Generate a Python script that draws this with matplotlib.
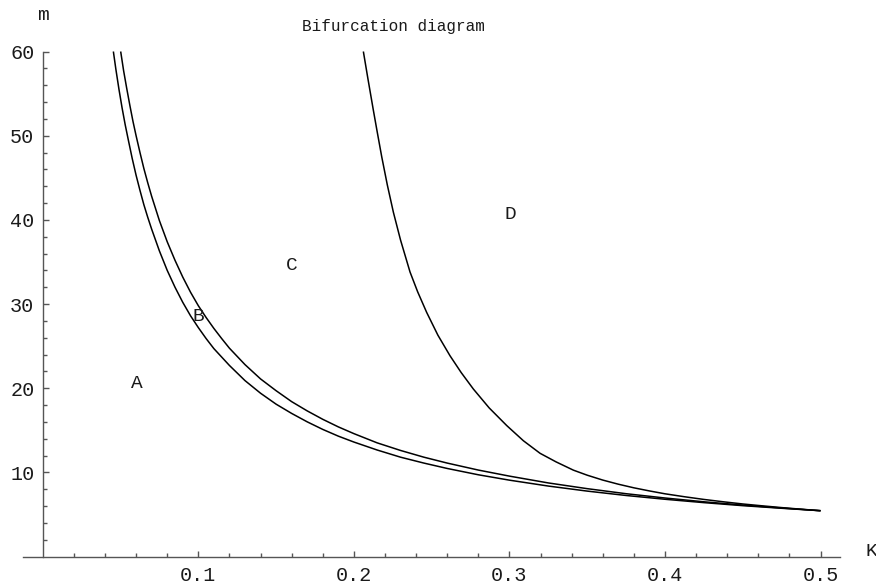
import matplotlib
matplotlib.use("Agg")
import matplotlib.pyplot as plt
from matplotlib.ticker import FixedLocator

# ---- data ----
k_curve1 = [0.0454, 0.047, 0.049, 0.051, 0.053, 0.055, 0.0575, 0.060, 0.0625, 0.065,
            0.0675, 0.070, 0.075, 0.080, 0.085, 0.090, 0.095, 0.100, 0.105, 0.110,
            0.115, 0.120, 0.130, 0.140, 0.150, 0.160, 0.170, 0.180, 0.190, 0.200,
            0.215, 0.230, 0.245, 0.260, 0.280, 0.300, 0.325, 0.350, 0.375, 0.400,
            0.425, 0.450, 0.475, 0.500]
m_curve1 = [60.0, 57.9, 55.5, 53.3, 51.3, 49.5, 47.3, 45.3, 43.5, 41.8,
            40.3, 38.9, 36.3, 34.0, 32.0, 30.2, 28.6, 27.2, 25.9, 24.7,
            23.7, 22.7, 20.9, 19.4, 18.1, 17.0, 16.0, 15.1, 14.3, 13.6,
            12.65, 11.8, 11.1, 10.46, 9.71, 9.07, 8.37, 7.77, 7.25, 6.80,
            6.40, 6.04, 5.73, 5.44]

k_curve2 = [0.0501, 0.052, 0.054, 0.056, 0.058, 0.060, 0.0625, 0.065, 0.0675, 0.070,
            0.075, 0.080, 0.085, 0.090, 0.095, 0.100, 0.105, 0.110, 0.115, 0.120,
            0.130, 0.140, 0.150, 0.160, 0.170, 0.180, 0.190, 0.200, 0.215, 0.230,
            0.245, 0.260, 0.280, 0.300, 0.325, 0.350, 0.375, 0.400, 0.425, 0.450,
            0.475, 0.500]
m_curve2 = [60.0, 57.7, 55.6, 53.6, 51.7, 50.0, 48.0, 46.1, 44.4, 42.8,
            39.9, 37.4, 35.2, 33.2, 31.4, 29.8, 28.4, 27.1, 25.9, 24.75,
            22.8, 21.1, 19.7, 18.4, 17.3, 16.3, 15.4, 14.6, 13.5, 12.6,
            11.8, 11.1, 10.27, 9.55, 8.74, 8.06, 7.46, 6.95, 6.50, 6.11,
            5.76, 5.44]

k_curve3 = [0.2061, 0.2090, 0.2125, 0.2150, 0.2179, 0.2215, 0.2254, 0.2300, 0.2361,
            0.2410, 0.2468, 0.2540, 0.2618, 0.2690, 0.2768, 0.2870, 0.2983, 0.3090,
            0.3197, 0.3300, 0.3411, 0.3500, 0.3600, 0.3700, 0.3800, 0.3900, 0.4000,
            0.4125, 0.4250, 0.4375, 0.4500, 0.4625, 0.4750, 0.4875, 0.5000]
m_curve3 = [60.0, 56.8, 53.05, 50.45, 47.5, 44.15, 40.9, 37.6, 33.8,
            31.45, 29.0, 26.3, 23.85, 21.85, 19.9, 17.65, 15.55, 13.75,
            12.26, 11.24, 10.26, 9.66, 9.08, 8.59, 8.16, 7.79, 7.45,
            7.10, 6.78, 6.50, 6.24, 6.02, 5.81, 5.62, 5.44]

region_labels = ["A", "B", "C", "D"]
region_k = [0.0604, 0.1000, 0.1600, 0.3004]
region_m = [20.6, 28.5, 34.6, 40.6]

x_major = [0.1, 0.2, 0.3, 0.4, 0.5]
x_tick_labels = ["0.1", "0.2", "0.3", "0.4", "0.5"]
y_major = [10, 20, 30, 40, 50, 60]
y_tick_labels = ["10", "20", "30", "40", "50", "60"]

title = "Bifurcation diagram"
xlabel = "K"
ylabel = "m"

# ---- figure ----
W, H = 876, 584
fig = plt.figure(figsize=(W / 100, H / 100), dpi=100)
fig.patch.set_facecolor("white")

ax_left_px, ax_right_px = 23.3, 840.0
ax_top_px, ax_bot_px = 51.5, 556.5
ax = fig.add_axes([ax_left_px / W, 1 - ax_bot_px / H,
                   (ax_right_px - ax_left_px) / W, (ax_bot_px - ax_top_px) / H])
ax.set_xlim(-0.0125, 0.5125)
ax.set_ylim(0, 60)

font = "Liberation Mono"
txt_color = "#1a1a1a"
lw = 1.1
for k, m in [(k_curve1, m_curve1), (k_curve2, m_curve2), (k_curve3, m_curve3)]:
    ax.plot(k, m, color="black", lw=lw, solid_joinstyle="round",
            solid_capstyle="butt", clip_on=False)

for lab, kx, my in zip(region_labels, region_k, region_m):
    ax.text(kx, my, lab, fontsize=14, family=font, ha="center", va="center",
            color=txt_color)

axis_color = "#555555"
for s in ["top", "right"]:
    ax.spines[s].set_visible(False)
ax.spines["left"].set_position(("data", 0))
ax.spines["bottom"].set_position(("data", 0))
for s in ["left", "bottom"]:
    ax.spines[s].set_color(axis_color)
    ax.spines[s].set_linewidth(1.0)

ax.xaxis.set_major_locator(FixedLocator(x_major))
ax.set_xticklabels(x_tick_labels)
ax.xaxis.set_minor_locator(FixedLocator([0.02 * i for i in range(1, 25) if i % 5 != 0]))
ax.yaxis.set_major_locator(FixedLocator(y_major))
ax.set_yticklabels(y_tick_labels)
ax.yaxis.set_minor_locator(FixedLocator([2 * i for i in range(1, 30) if i % 5 != 0]))

ax.tick_params(which="both", direction="in", color=axis_color, width=1.0)
ax.tick_params(which="major", length=4.3)
ax.tick_params(which="minor", length=2.6)
ax.tick_params(axis="x", which="major", pad=6.5, labelsize=14.5, labelcolor=txt_color)
ax.tick_params(axis="y", which="major", pad=6, labelsize=14.5, labelcolor=txt_color)
for t in ax.get_xticklabels() + ax.get_yticklabels():
    t.set_family(font)

fig.text(393 / W, 1 - 26 / H, title, family=font, fontsize=11.5,
         ha="center", va="center", color=txt_color)
fig.text(42.7 / W, 1 - 15.7 / H, ylabel, family=font, fontsize=14,
         ha="center", va="center", color=txt_color)
fig.text(871.5 / W, 1 - 551 / H, xlabel, family=font, fontsize=14,
         ha="center", va="center", color=txt_color)

fig.savefig("out.png", dpi=100, facecolor="white")
